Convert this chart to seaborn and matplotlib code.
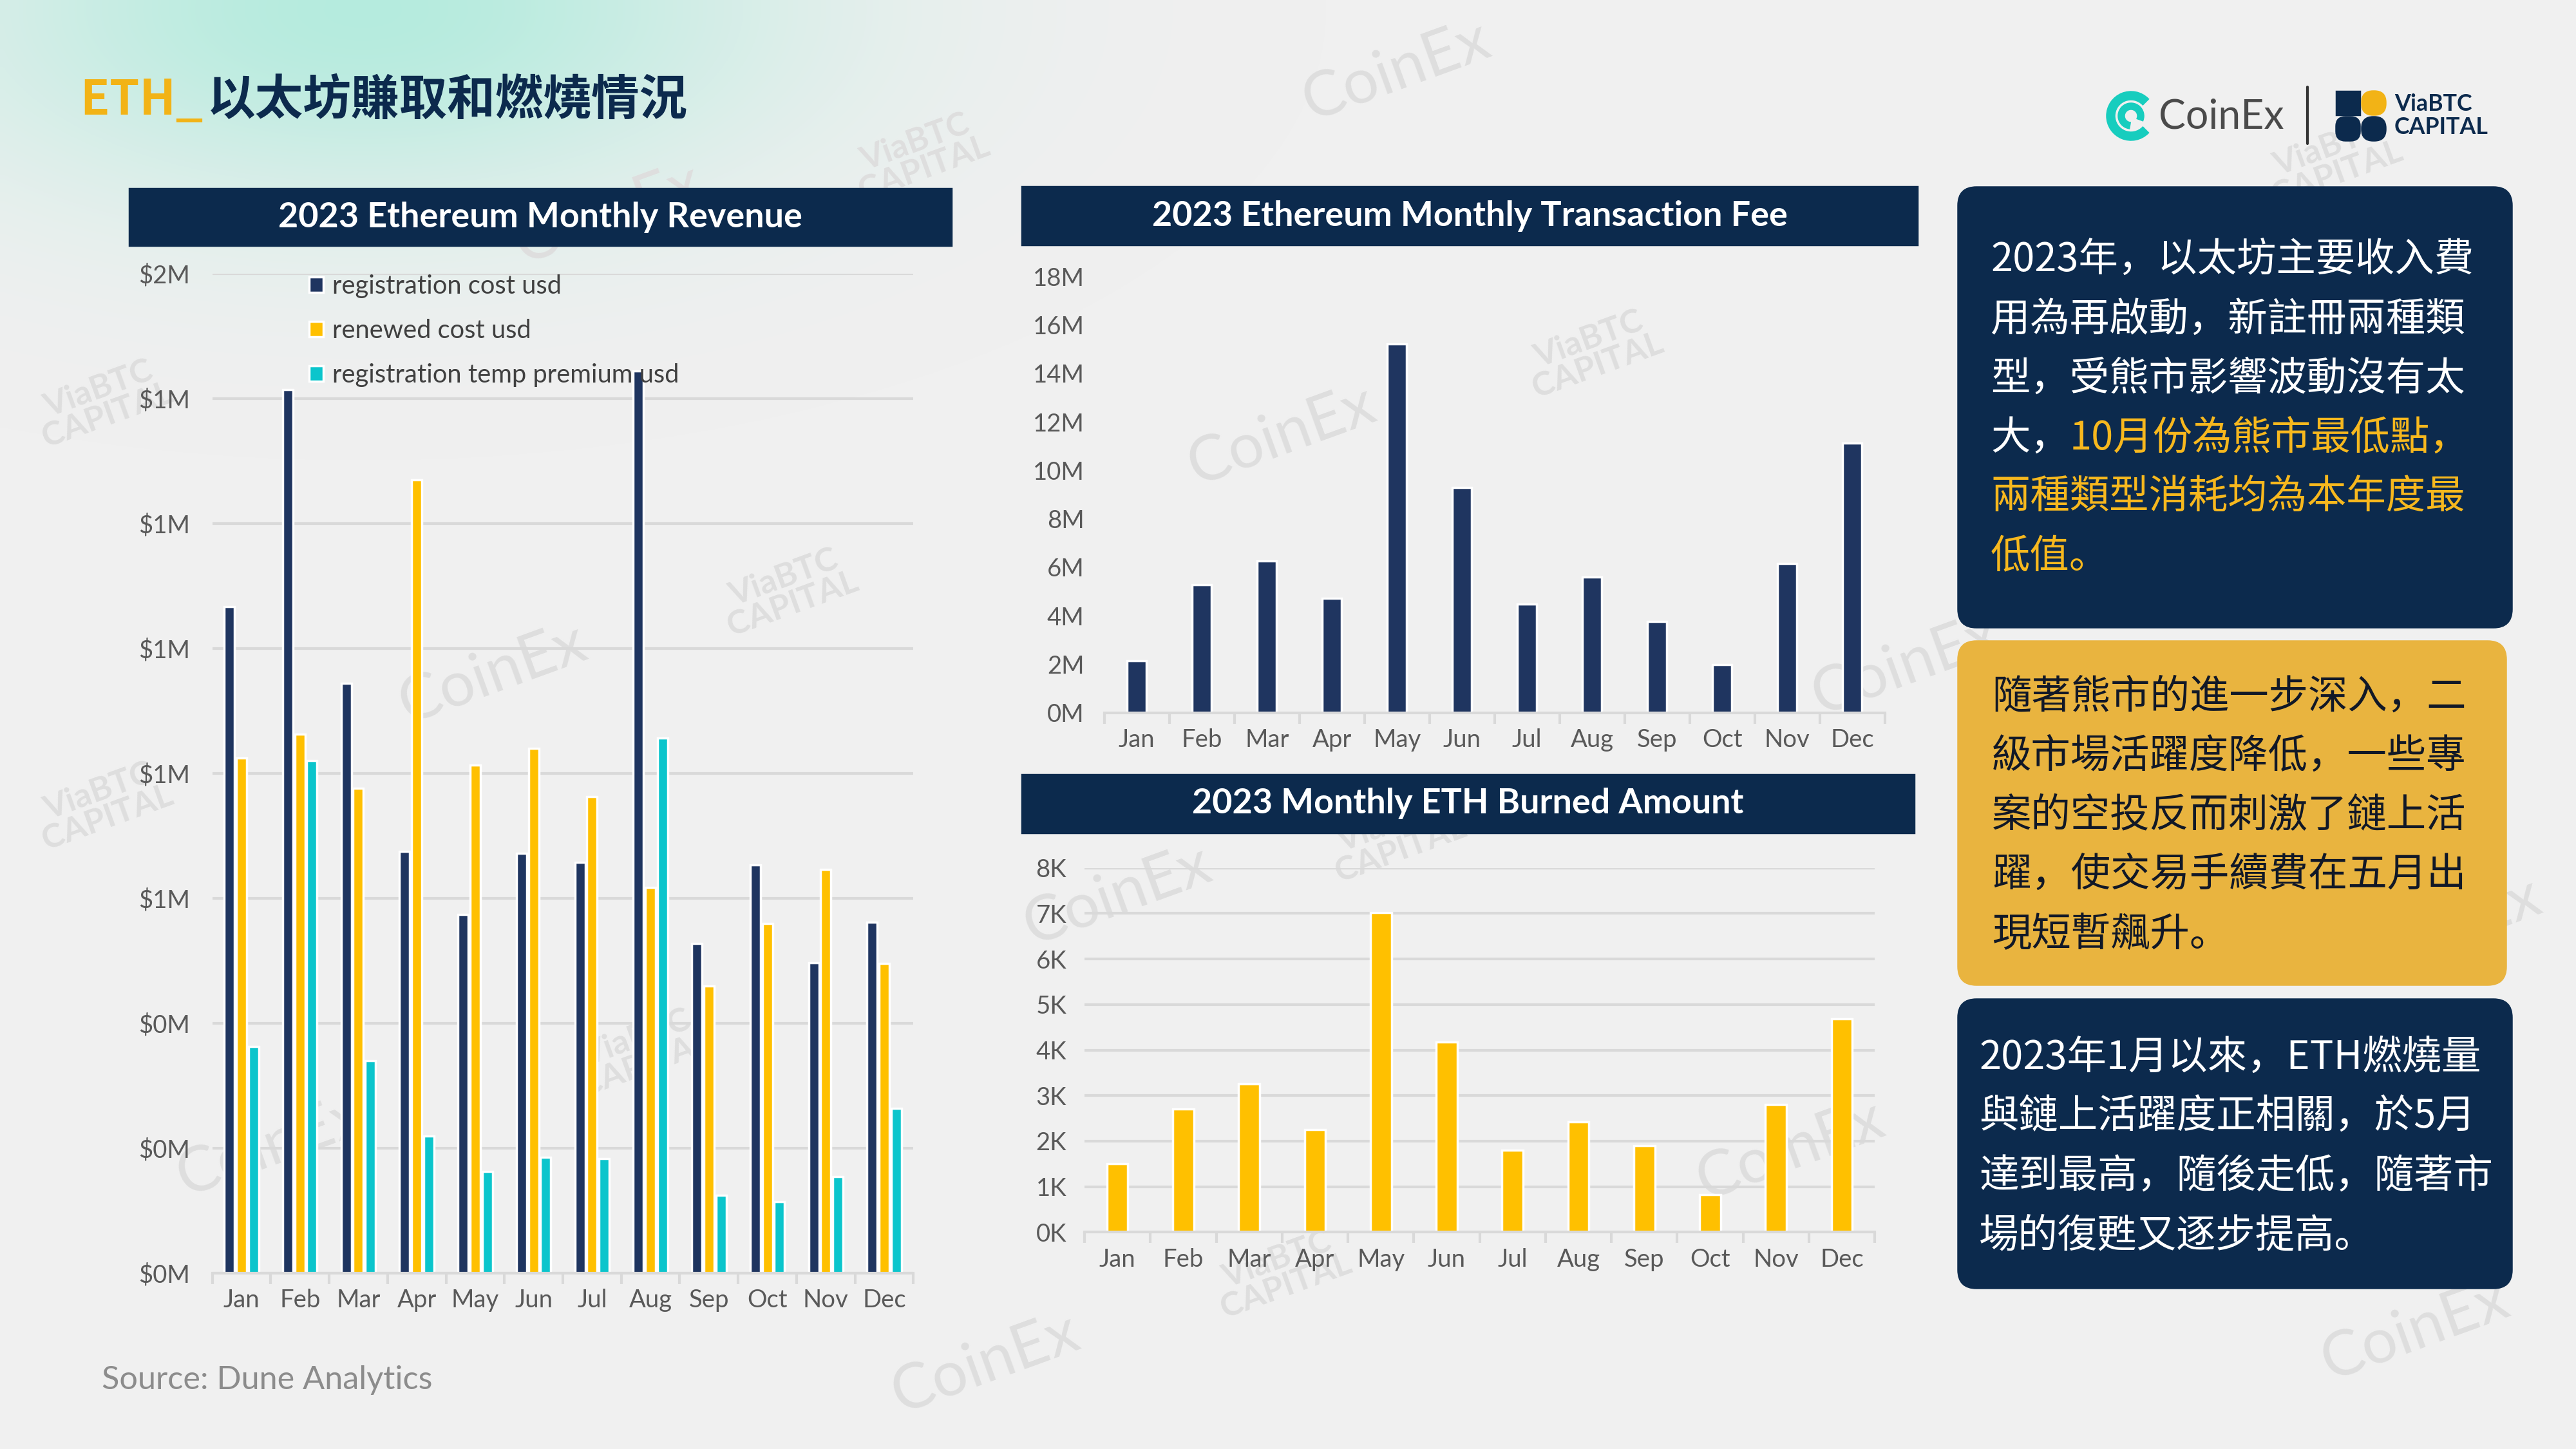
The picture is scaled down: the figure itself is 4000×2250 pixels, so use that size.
import numpy as np
import pandas as pd
import seaborn as sns
import matplotlib.pyplot as plt
from matplotlib.patches import FancyBboxPatch, Wedge, Rectangle
from matplotlib.ticker import FuncFormatter, MultipleLocator

# Data
months = ["Jan", "Feb", "Mar", "Apr", "May", "Jun", "Jul", "Aug", "Sep", "Oct", "Nov", "Dec"]
registration_cost = [1.067, 1.414, 0.944, 0.675, 0.574, 0.672, 0.657, 1.444, 0.527, 0.653, 0.497, 0.561]  # $M
renewed_cost = [0.824, 0.862, 0.776, 1.270, 0.813, 0.840, 0.762, 0.617, 0.459, 0.559, 0.646, 0.495]
temp_premium = [0.363, 0.820, 0.340, 0.219, 0.163, 0.185, 0.183, 0.856, 0.124, 0.114, 0.154, 0.264]
series_names = ["registration cost usd", "renewed cost usd", "registration temp premium usd"]
tx_fee = [2.14, 5.28, 6.25, 4.71, 15.21, 9.29, 4.48, 5.60, 3.77, 1.98, 6.15, 11.12]  # M
eth_burned = [1.51, 2.71, 3.26, 2.26, 7.02, 4.18, 1.80, 2.42, 1.90, 0.83, 2.81, 4.69]  # K

title_prefix = "ETH_"
title_main = "以太坊賺取和燃燒情況"
chart_titles = ["2023 Ethereum Monthly Revenue",
                "2023 Ethereum Monthly Transaction Fee",
                "2023 Monthly ETH Burned Amount"]
box1_lines = ["2023年，以太坊主要收入費", "用為再啟動，新註冊兩種類", "型，受熊市影響波動沒有太"]
box1_split = ("大，", "10月份為熊市最低點，")
box1_yellow = ["兩種類型消耗均為本年度最", "低值。"]
box2_lines = ["隨著熊市的進一步深入，二", "級市場活躍度降低，一些專", "案的空投反而刺激了鏈上活",
              "躍，使交易手續費在五月出", "現短暫飆升。"]
box3_lines = ["2023年1月以來，ETH燃燒量", "與鏈上活躍度正相關，於5月", "達到最高，隨後走低，隨著市",
              "場的復甦又逐步提高。"]
source_text = "Source: Dune Analytics"

# Colours
NAVY = "#0C2A4D"
BAR_NAVY = "#1F3560"
YELLOW = "#FFC000"
TEAL = "#0BC5CC"
GOLD_BOX = "#E9B43F"
HILITE = "#F7B81E"
GRID = "#D9D9D9"
TICK = "#595959"
BG = "#F0F0F0"

sns.set_theme(style="white")
plt.rcParams["font.family"] = ["Lato", "Noto Sans CJK SC", "DejaVu Sans"]
CJK = ["Noto Sans CJK SC", "DejaVu Sans"]

fig = plt.figure(figsize=(16, 9), dpi=250, facecolor=BG)

# background layer in pixel coordinates
bg = fig.add_axes([0, 0, 1, 1], zorder=0)
bg.set_xlim(0, 4000)
bg.set_ylim(2250, 0)
bg.axis("off")
bg.set_facecolor(BG)

# teal glow top-left
gx, gy = np.meshgrid(np.linspace(0, 4000, 400), np.linspace(0, 2250, 225))
glow = np.zeros((225, 400, 4))
glow[..., 0] = 0.70
glow[..., 1] = 0.925
glow[..., 2] = 0.87
glow[..., 3] = 0.95 * np.exp(-((gx - 560) / 640) ** 2 - ((gy - 10) / 300) ** 2)
bg.imshow(glow, extent=[0, 4000, 2250, 0], aspect="auto", zorder=0, interpolation="bilinear")

# watermarks
wm_coinex = [(2168, 110), (1990, 676), (765, 1046), (1735, 1390), (2780, 1786), (1530, 2117),
             (3750, 2066), (2959, 1033), (3800, 1440), (944, 332), (420, 1780)]
wm_viabtc = [(1428, 242), (2474, 548), (1224, 918), (160, 625), (160, 1250), (995, 1633),
             (1990, 1977), (3622, 250), (2168, 1300)]
for x, y in wm_coinex:
    bg.text(x, y, "CoinEx", fontsize=28, color="#DEDEDE", rotation=20, ha="center", va="center",
            zorder=1, family="Lato")
for x, y in wm_viabtc:
    bg.text(x, y, "ViaBTC\nCAPITAL", fontsize=15, color="#DEDEDE", rotation=20, ha="center",
            va="center", zorder=1, fontweight="bold", linespacing=0.9, family="Lato")

# page title
t = bg.text(124, 156, title_prefix, fontsize=21.5, color="#F2B316", fontweight="bold",
            family=CJK, va="center", ha="left", zorder=5)
bg.annotate(title_main, xy=(1, 0.5), xycoords=t, xytext=(2, 0), textcoords="offset points",
            fontsize=21.5, color=NAVY, fontweight="bold", family=CJK, va="center", ha="left", zorder=5)

# logos
bg.add_patch(Wedge((3309, 180), 37, 45, 315, width=11, color="#17CDBE", zorder=5))
bg.add_patch(Wedge((3309, 180), 19, 100, 380, width=8, color="#17CDBE", zorder=5))
bg.text(3352, 182, "CoinEx", fontsize=18, color="#4A4A4A", va="center", ha="left", zorder=5,
        family="Lato")
bg.plot([3583, 3583], [135, 223], color="#333333", lw=1.2, zorder=5)
bg.add_patch(Rectangle((3628, 142), 36, 36, color=NAVY, zorder=5))
bg.add_patch(FancyBboxPatch((3668, 142), 36, 36, boxstyle="round,pad=0,rounding_size=17",
                            color="#F2B316", zorder=5))
bg.add_patch(FancyBboxPatch((3628, 182), 36, 36, boxstyle="round,pad=0,rounding_size=14",
                            color=NAVY, zorder=5))
bg.add_patch(FancyBboxPatch((3668, 182), 36, 36, boxstyle="round,pad=0,rounding_size=17",
                            color=NAVY, zorder=5))
bg.text(3718, 161, "ViaBTC", fontsize=10.3, fontweight="bold", color=NAVY, va="center", zorder=5)
bg.text(3718, 198, "CAPITAL", fontsize=10.3, fontweight="bold", color=NAVY, va="center", zorder=5)

# chart header bars
headers = [(201, 293, 1276, 88), (1587, 290, 1390, 90), (1587, 1203, 1385, 90)]
for (x, y, w, h), label in zip(headers, chart_titles):
    bg.add_patch(Rectangle((x, y), w, h, color=NAVY, zorder=5))
    bg.text(x + w / 2, y + h / 2, label, color="white", fontsize=15.5, fontweight="bold",
            ha="center", va="center", zorder=6)

# right text boxes
boxes = [(3041, 291, 859, 683, NAVY), (3041, 996, 850, 533, GOLD_BOX), (3041, 1552, 859, 448, NAVY)]
for x, y, w, h, c in boxes:
    bg.add_patch(FancyBboxPatch((x, y), w, h, boxstyle="round,pad=0,rounding_size=28",
                                color=c, zorder=5))

fs_box = 17.7
em_px = fs_box * 250 / 72
step = 92
y1 = 405
for i, line in enumerate(box1_lines):
    bg.text(3091, y1 + i * step, line, fontsize=fs_box, color="white", family=CJK,
            va="center", zorder=6)
bg.text(3091, y1 + 3 * step, box1_split[0], fontsize=fs_box, color="white", family=CJK,
        va="center", zorder=6)
bg.text(3091 + 2 * em_px, y1 + 3 * step, box1_split[1], fontsize=fs_box, color=HILITE,
        family=CJK, va="center", zorder=6)
for i, line in enumerate(box1_yellow):
    bg.text(3091, y1 + (4 + i) * step, line, fontsize=fs_box, color=HILITE, family=CJK,
            va="center", zorder=6)
for i, line in enumerate(box2_lines):
    bg.text(3093, 1083 + i * step, line, fontsize=fs_box, color="#111827", family=CJK,
            va="center", zorder=6)
for i, line in enumerate(box3_lines):
    bg.text(3073, 1643 + i * step, line, fontsize=fs_box, color="white", family=CJK,
            va="center", zorder=6)

bg.text(158, 2143, source_text, fontsize=14.5, color="#8C8C8C", va="center", ha="left", zorder=6)


def style_axis(ax, grid, pad):
    ax.set_facecolor("none")
    ax.set_xlim(-0.5, 11.5)
    ax.set_xlabel("")
    ax.set_ylabel("")
    for s in ["top", "right", "left"]:
        ax.spines[s].set_visible(False)
    ax.spines["bottom"].set_color(GRID)
    ax.spines["bottom"].set_linewidth(1.2)
    ax.set_xticks(np.arange(-0.5, 12, 1), minor=True)
    ax.tick_params(axis="x", which="minor", length=5, width=1.2, color=GRID, bottom=True)
    ax.tick_params(axis="x", which="major", length=0, pad=7, labelsize=11, labelcolor=TICK)
    ax.tick_params(axis="y", length=0, pad=pad, labelsize=11, labelcolor=TICK)
    if grid:
        ax.yaxis.grid(True, color=GRID, lw=1.2)
    else:
        ax.yaxis.grid(False)
    ax.xaxis.grid(False)
    ax.set_axisbelow(True)


# 1) monthly revenue
rev = pd.DataFrame({
    "month": months * 3,
    "series": [series_names[0]] * 12 + [series_names[1]] * 12 + [series_names[2]] * 12,
    "value": registration_cost + renewed_cost + temp_premium,
})
ax1 = fig.add_axes([0.0824, 0.1215, 0.2722, 0.6898], zorder=2)
sns.barplot(data=rev, x="month", y="value", hue="series", palette=[BAR_NAVY, YELLOW, TEAL],
            width=0.62, gap=0.15, saturation=1, ax=ax1)
ax1.set_ylim(0, 1.6)
ax1.yaxis.set_major_locator(MultipleLocator(0.2))
ax1.yaxis.set_major_formatter(FuncFormatter(lambda v, _: f"${v:.0f}M"))
style_axis(ax1, True, 10)
h, l = ax1.get_legend_handles_labels()
ax1.legend(h, l, loc="upper left", bbox_to_anchor=(0.105, 1.022), frameon=False, fontsize=11.5,
           handlelength=0.55, handleheight=0.55, handletextpad=0.35, labelspacing=0.8,
           labelcolor="#404040")

# 2) transaction fee
ax2 = fig.add_axes([0.4287, 0.5082, 0.3030, 0.3010], zorder=2)
sns.barplot(x=months, y=tx_fee, color=BAR_NAVY, width=0.3, saturation=1, ax=ax2)
ax2.set_ylim(0, 18)
ax2.yaxis.set_major_locator(MultipleLocator(2))
ax2.yaxis.set_major_formatter(FuncFormatter(lambda v, _: f"{v:.0f}M"))
style_axis(ax2, False, 9)

# 3) ETH burned
ax3 = fig.add_axes([0.4210, 0.1496, 0.3068, 0.2514], zorder=2)
sns.barplot(x=months, y=eth_burned, color=YELLOW, width=0.32, saturation=1, ax=ax3)
ax3.set_ylim(0, 8)
ax3.yaxis.set_major_locator(MultipleLocator(1))
ax3.yaxis.set_major_formatter(FuncFormatter(lambda v, _: f"{v:.0f}K"))
style_axis(ax3, True, 8)

fig.savefig("out.png", dpi=250, facecolor=BG)
